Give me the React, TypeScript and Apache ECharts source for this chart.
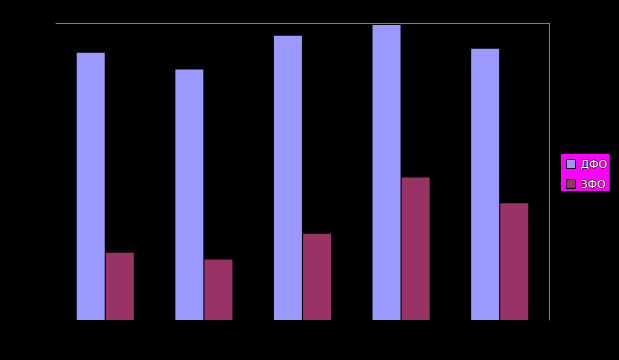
import React, { useEffect, useRef } from "react";
import * as echarts from "echarts";

const categories = ["1", "2", "3", "4", "5"];
const seriesNames = ["ДФО", "ЗФО"];
const seriesA = [270, 253, 287, 298, 274];
const seriesB = [68, 61, 87, 144, 118];
const yMax = 300;

export default function App() {
  const ref = useRef<HTMLDivElement>(null);
  useEffect(() => {
    if (!ref.current) return;
    const chart = echarts.init(ref.current, null, { renderer: "svg" });
    chart.setOption({
      animation: false,
      backgroundColor: "#000000",
      grid: { left: 56, right: 70, top: 23, bottom: 40 },
      legend: {
        left: 561,
        top: 154,
        orient: "vertical",
        backgroundColor: "#ff00ff",
        padding: [4, 2, 1, 5],
        itemWidth: 9,
        itemHeight: 9,
        itemGap: 8,
        icon: "rect",
        itemStyle: { borderColor: "#000000", borderWidth: 1 },
        textStyle: {
          color: "#ffffff",
          fontSize: 11,
          lineHeight: 9,
          fontFamily: "DejaVu Sans",
          textBorderColor: "#000000",
          textBorderWidth: 1,
        },
        data: seriesNames,
      },
      xAxis: {
        type: "category",
        data: categories,
        position: "top",
        axisLine: { show: true, onZero: false, lineStyle: { color: "#808080", width: 1 } },
        axisTick: { show: false },
        axisLabel: { show: false },
      },
      yAxis: {
        type: "value",
        min: 0,
        max: yMax,
        position: "right",
        axisLine: { show: true, onZero: false, lineStyle: { color: "#808080", width: 1 } },
        axisTick: { show: false },
        axisLabel: { show: false },
        splitLine: { show: false },
      },
      series: [
        {
          name: seriesNames[0],
          type: "bar",
          data: seriesA,
          barWidth: 28,
          barGap: "4%",
          itemStyle: { color: "#9999ff" },
        },
        {
          name: seriesNames[1],
          type: "bar",
          data: seriesB,
          barWidth: 28,
          barGap: "4%",
          itemStyle: { color: "#993366" },
        },
      ],
    });
    return () => chart.dispose();
  }, []);
  return <div ref={ref} style={{ width: 619, height: 360, position: "absolute", left: 0, top: 0 }} />;
}
